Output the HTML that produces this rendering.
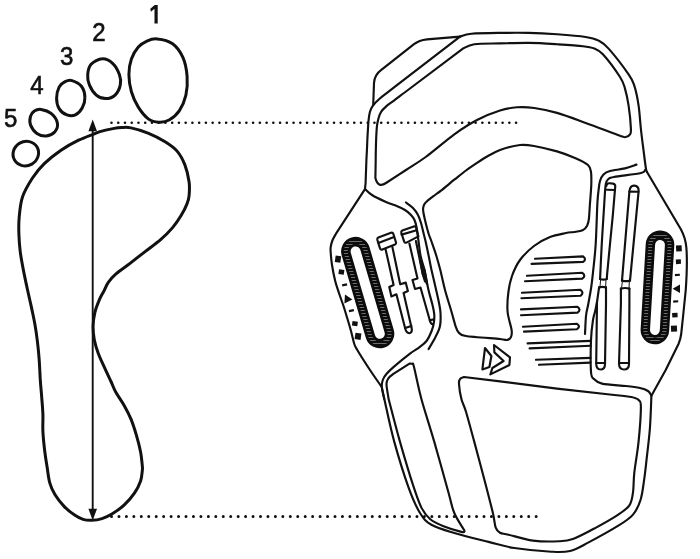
<!DOCTYPE html>
<html><head><meta charset="utf-8"><title>Foot size guide</title>
<style>
html,body{margin:0;padding:0;background:#fff;}
body{width:700px;height:559px;overflow:hidden;font-family:"Liberation Sans",sans-serif;}
svg{display:block;filter:grayscale(1)}
.f{fill:none;stroke:#111;stroke-width:3;stroke-linejoin:round}
.b{fill:none;stroke:#111;stroke-width:2.15;stroke-linecap:round;stroke-linejoin:round}
.t{fill:none;stroke:#151515;stroke-width:1;stroke-linecap:round;stroke-linejoin:round}
.dot{stroke:#111;stroke-width:2.6;stroke-linecap:round;}
.d{font-family:"Liberation Sans",sans-serif;font-size:25.6px;fill:#111;stroke:#111;stroke-width:0.6}
</style></head><body>
<svg width="700" height="559" viewBox="0 0 700 559">
<defs><pattern id="hatch" width="4" height="3" patternUnits="userSpaceOnUse"><rect width="4" height="3" fill="#0c0c0c"/><rect y="1.2" width="4" height="0.65" fill="#a0a0a0"/></pattern></defs>
<rect width="700" height="559" fill="#fff"/>
<path class="f" d="M122.0,127.5 C125.0,127.4 126.7,127.0 131.0,127.9 C135.3,128.8 142.3,130.8 148.0,133.1 C153.7,135.4 160.2,138.7 165.1,141.7 C169.9,144.7 173.8,147.2 177.1,151.1 C180.4,155.0 182.9,159.8 184.9,164.9 C186.9,170.1 188.4,176.9 189.1,182.0 C189.8,187.1 189.4,192.1 189.1,195.7 C188.8,199.3 188.4,200.3 187.1,203.6 C185.8,206.9 183.5,211.6 181.1,215.6 C178.7,219.6 176.0,223.6 172.6,227.6 C169.2,231.6 165.2,235.6 160.6,239.6 C156.0,243.6 150.2,247.6 145.1,251.6 C139.9,255.6 134.5,259.9 129.7,263.6 C124.8,267.3 119.6,270.8 116.0,273.9 C112.4,277.0 110.3,279.6 108.3,282.4 C106.3,285.2 105.5,287.8 104.0,290.8 C102.5,293.8 100.6,296.7 99.1,300.3 C97.6,303.9 95.9,308.0 94.9,312.3 C93.9,316.6 93.2,321.4 93.1,326.0 C93.0,330.6 93.4,335.1 94.3,339.7 C95.2,344.3 96.6,348.8 98.3,353.4 C100.0,358.0 102.2,362.4 104.3,367.1 C106.4,371.8 109.1,377.4 111.0,381.5 C112.9,385.6 113.5,388.0 115.7,392.0 C117.9,396.0 121.7,401.1 124.3,405.7 C126.9,410.3 129.1,414.5 131.1,419.4 C133.1,424.3 134.7,429.5 136.3,434.9 C137.9,440.3 139.6,446.9 140.6,452.0 C141.6,457.1 142.0,462.6 142.3,465.7 C142.6,468.8 142.6,468.1 142.3,470.6 C142.0,473.1 141.9,477.2 140.6,480.9 C139.3,484.6 137.3,488.9 134.6,492.9 C131.9,496.9 128.0,501.4 124.3,504.9 C120.6,508.4 116.0,511.5 112.3,513.8 C108.6,516.1 105.4,517.5 102.0,518.6 C98.6,519.7 94.9,520.2 91.7,520.3 C88.5,520.4 85.9,520.3 83.1,519.4 C80.2,518.5 77.7,517.2 74.6,515.1 C71.5,513.0 67.6,510.0 64.3,506.6 C61.0,503.2 57.3,498.6 54.9,494.6 C52.5,490.6 51.0,487.2 49.7,482.6 C48.4,478.0 48.0,472.5 47.1,467.1 C46.2,461.7 45.3,455.9 44.6,450.0 C43.9,444.1 43.2,437.3 42.9,431.4 C42.6,425.4 43.1,420.0 42.9,414.3 C42.7,408.6 42.1,402.8 41.7,397.1 C41.3,391.4 40.7,386.4 40.3,380.0 C39.9,373.6 39.6,365.0 39.1,358.6 C38.6,352.2 38.1,347.1 37.4,341.4 C36.7,335.7 35.9,330.0 34.9,324.3 C33.9,318.6 32.5,312.5 31.4,307.1 C30.2,301.7 29.4,298.4 28.0,292.0 C26.6,285.6 24.4,275.4 23.1,268.6 C21.8,261.8 20.9,257.1 20.2,251.4 C19.5,245.7 19.1,240.0 18.9,234.3 C18.7,228.6 18.6,223.3 19.2,217.1 C19.8,210.9 20.3,203.5 22.5,197.0 C24.7,190.5 28.7,183.9 32.3,178.3 C35.9,172.8 39.4,168.4 44.3,163.7 C49.1,159.0 55.7,153.9 61.4,150.0 C67.1,146.1 73.3,142.8 78.6,140.2 C83.9,137.6 89.4,135.7 93.0,134.3 C96.6,132.9 96.7,132.6 100.0,131.6 C103.3,130.6 109.3,129.3 113.0,128.6 C116.7,127.9 119.0,127.6 122.0,127.5Z" />
<path class="f" d="M157.1,38.9 C161.4,39.3 168.3,40.6 172.6,43.7 C176.9,46.8 180.5,52.0 182.9,57.4 C185.3,62.8 186.6,70.0 187.1,76.3 C187.6,82.6 187.2,89.4 185.9,95.1 C184.6,100.8 182.2,106.4 179.4,110.6 C176.6,114.8 172.5,118.1 169.1,120.0 C165.7,121.9 162.3,122.4 158.9,122.2 C155.5,122.0 152.0,121.6 148.6,119.1 C145.2,116.6 141.2,111.7 138.3,107.1 C135.4,102.5 133.0,97.1 131.4,91.7 C129.8,86.3 128.9,80.0 128.9,74.6 C128.9,69.2 129.8,63.7 131.4,59.1 C133.0,54.5 135.7,50.1 138.3,47.1 C140.9,44.1 143.8,42.5 146.9,41.1 C150.0,39.7 152.8,38.5 157.1,38.9Z" />
<path class="f" d="M102.3,58.8 C105.9,58.6 109.8,60.8 112.6,63.4 C115.4,66.0 118.1,71.0 119.4,74.6 C120.7,78.2 121.0,81.5 120.3,84.9 C119.6,88.3 117.5,92.8 115.1,95.1 C112.7,97.4 108.8,98.6 105.7,98.6 C102.6,98.6 99.0,97.4 96.3,95.1 C93.6,92.8 90.8,88.3 89.4,84.9 C88.0,81.5 87.4,78.0 87.7,74.6 C88.0,71.2 88.7,66.9 91.1,64.3 C93.5,61.7 98.7,58.9 102.3,58.8Z" />
<path class="f" d="M72.0,80.6 C74.7,81.4 79.2,83.5 81.4,86.3 C83.6,89.1 84.8,93.8 84.9,97.4 C85.1,101.0 83.9,104.8 82.3,107.7 C80.7,110.6 78.0,113.7 75.4,114.9 C72.8,116.1 69.6,116.0 66.9,114.9 C64.2,113.9 60.8,111.4 59.1,108.6 C57.4,105.8 56.6,101.9 56.6,98.3 C56.6,94.7 57.7,89.9 59.1,87.1 C60.5,84.3 62.9,82.8 65.1,81.7 C67.2,80.6 69.3,79.8 72.0,80.6Z" />
<path class="f" d="M41.1,109.4 C44.0,109.8 48.7,111.4 51.4,113.7 C54.1,116.0 56.8,120.1 57.4,123.1 C58.0,126.1 56.8,129.5 54.9,131.7 C53.0,133.8 49.3,135.7 46.3,136.0 C43.3,136.3 39.5,135.2 36.9,133.4 C34.3,131.6 31.6,127.8 30.5,124.9 C29.4,122.1 29.9,118.6 30.5,116.3 C31.1,114.0 32.5,112.2 34.3,111.1 C36.1,109.9 38.2,109.0 41.1,109.4Z" />
<ellipse class="f" cx="25.8" cy="153.6" rx="13" ry="12.1" transform="rotate(-30 25.8 153.6)"/>
<line x1="92.7" y1="128" x2="92.7" y2="512" stroke="#111" stroke-width="1.9"/>
<path d="M92.7,119.4 L97,131.2 L88.4,131.2Z" fill="#111"/>
<path d="M92.7,520.6 L97,508.8 L88.4,508.8Z" fill="#111"/>
<line class="dot" x1="111.5" y1="122.7" x2="516.8" y2="122.7" style="stroke-dasharray:0 6.743"/>
<line class="dot" x1="111.5" y1="516.5" x2="537.5" y2="516.5" style="stroke-width:3;stroke-dasharray:0 7.45"/>
<path d="M154.7,4.9 L157.7,4.9 L157.7,23.4 L154.5,23.4 L154.5,8.8 L150.9,11.8 L150.3,8.8Z" fill="#111"/>
<text class="d" transform="translate(92.3 41.1) scale(0.94 1)">2</text>
<text class="d" transform="translate(60.1 64.9) scale(0.94 1)">3</text>
<text class="d" transform="translate(30.3 94.0) scale(0.94 1)">4</text>
<text class="d" transform="translate(4.1 127.1) scale(0.94 1)">5</text>
<path class="b" d="M365,189 L365.6,183 L366.4,160  C366.5,158.1 366.8,152.8 367.0,148.6 C367.2,144.4 367.3,139.8 367.6,135.0 C367.9,130.2 368.2,123.8 368.6,120.0 C369.0,116.2 369.2,114.4 369.9,112.0 C370.6,109.6 371.4,107.8 372.9,105.7 C374.4,103.6 376.6,101.3 379.0,99.2 C381.4,97.1 384.3,95.0 387.0,92.9 C389.7,90.8 393.7,87.7 395.0,86.7 L460,36.6" />
<path class="b" d="M460.0,36.6 C461.9,36.1 464.7,34.3 471.4,33.7 C478.1,33.1 490.5,33.0 500.0,32.9 C509.5,32.8 519.1,32.7 528.6,32.9 C538.1,33.1 547.5,33.6 557.0,34.3 C566.5,35.0 578.8,36.0 585.7,37.0 C592.6,38.0 594.8,38.7 598.6,40.6 C602.4,42.5 603.6,43.0 608.6,48.6 C613.6,54.2 624.3,68.1 628.6,74.3 C632.9,80.5 632.6,80.5 634.3,85.7 C636.0,90.9 637.5,98.3 638.6,105.7 C639.7,113.1 640.1,122.0 641.0,130.0 C641.9,138.1 643.2,147.5 644.0,154.0 C644.8,160.5 645.5,166.0 646.0,169.0 C646.5,172.0 646.8,171.5 647.0,172.0" />
<path class="b" d="M373.2,105.2 L374,83 Q374.5,75 381,70.2 L414,44.2 Q419,40.3 427,39.4 L460,36.6" />
<path class="b" d="M375.4,178 L375.7,160  C375.7,158.6 375.7,155.1 375.8,151.4 C375.9,147.7 376.0,142.3 376.2,138.0 C376.4,133.7 376.6,129.0 377.0,125.7 C377.4,122.4 377.9,120.4 378.6,118.0 C379.3,115.6 380.1,113.3 381.4,111.4 C382.7,109.5 384.3,108.1 386.2,106.4 C388.1,104.7 389.9,103.6 392.9,101.4 C395.9,99.2 402.1,94.4 404.0,93.0 L462.9,48.6  C464.8,47.9 468.1,45.2 474.3,44.3 C480.5,43.4 490.9,43.6 500.0,43.4 C509.1,43.2 519.1,42.8 528.6,42.9 C538.1,43.0 548.0,43.7 557.0,44.3 C566.0,44.9 576.7,45.6 582.9,46.3 C589.1,47.0 591.0,47.3 594.3,48.6 C597.6,49.9 598.6,49.6 602.9,54.3 C607.2,59.0 616.3,71.3 620.0,77.0 C623.7,82.7 623.6,83.8 625.0,88.6 C626.4,93.4 627.6,99.0 628.6,105.7 C629.6,112.4 630.7,123.8 630.9,128.6 C631.1,133.4 630.9,132.9 630.0,134.3 C629.1,135.7 627.4,136.8 625.7,137.0 C624.0,137.2 626.7,138.0 620.0,135.7 C613.3,133.3 596.2,126.7 585.7,122.9 C575.2,119.1 565.6,115.4 557.0,112.9 C548.4,110.4 541.0,108.9 534.3,108.0 C527.6,107.1 522.7,106.9 517.0,107.3 C511.3,107.7 506.7,108.4 500.0,110.5 C493.3,112.6 484.6,116.0 477.0,120.0 C469.4,124.0 462.9,128.1 454.3,134.3 C445.8,140.5 433.8,151.1 425.7,157.0 C417.6,162.9 412.6,165.7 406.0,170.0 C399.4,174.3 389.3,180.8 386.0,183.0 Q378,188.5 375.4,178Z" />
<path class="b" d="M364.8,189.3 L336,233.7  C335.4,234.8 333.5,237.9 332.6,240.0 C331.8,242.1 331.2,244.2 330.9,246.0 C330.6,247.8 330.4,247.8 330.6,251.0 C330.8,254.2 331.2,260.0 332.0,265.0 C332.8,270.0 334.0,276.2 335.2,281.0 C336.4,285.8 337.9,289.8 339.3,294.0 C340.7,298.2 342.1,301.8 343.5,306.0 C344.9,310.2 346.2,314.8 347.5,319.0 C348.8,323.2 349.9,327.0 351.0,331.0 C352.1,335.0 353.0,339.9 354.0,343.0 C355.0,346.1 354.5,345.2 357.0,349.5 C359.5,353.8 365.0,362.4 369.0,368.5 C373.0,374.6 379.0,383.1 381.0,386.0" />
<path class="b" d="M365.0,189.0 C366.2,190.0 368.5,192.8 372.0,195.0 C375.5,197.2 382.2,200.3 386.0,202.0 C389.8,203.7 391.8,203.9 395.0,205.2 C398.2,206.5 402.3,208.4 405.0,210.0 C407.7,211.6 409.4,213.3 411.0,215.0 C412.6,216.7 413.6,218.0 414.5,220.0 C415.4,222.0 415.8,223.5 416.5,227.0 C417.2,230.5 417.8,236.2 418.5,241.0 C419.2,245.8 419.6,251.2 420.6,256.0 C421.6,260.8 423.2,264.3 424.5,270.0 C425.8,275.7 427.2,284.2 428.5,290.0 C429.8,295.8 431.5,300.8 432.5,305.0 C433.5,309.2 434.1,312.0 434.3,315.0 C434.5,318.0 434.2,320.3 433.8,323.0 C433.4,325.7 432.8,328.0 431.6,331.0 C430.4,334.0 428.6,338.2 426.5,341.0 C424.4,343.8 421.8,345.5 419.0,347.6 C416.2,349.7 414.2,350.4 410.0,353.6 C405.8,356.8 397.9,363.2 394.0,366.6 C390.1,370.0 388.3,371.8 386.4,374.0 C384.5,376.2 383.6,377.8 382.8,380.0 C382.0,382.2 381.6,383.8 381.8,387.0 C382.1,390.2 383.9,397.0 384.3,399.0" />
<path class="b" d="M406.0,202.5 C407.2,203.4 411.0,205.9 413.0,208.0 C415.0,210.1 416.7,212.5 418.0,215.0 C419.3,217.5 420.0,219.7 421.0,223.0 C422.0,226.3 423.2,232.0 424.0,235.0 C424.8,238.0 424.7,237.5 425.5,241.0 C426.3,244.5 427.7,251.2 428.7,256.0 C429.7,260.8 430.4,265.2 431.5,270.0 C432.6,274.8 433.8,279.5 435.0,285.0 C436.2,290.5 438.1,298.3 439.0,303.0 C439.9,307.7 440.3,309.2 440.5,313.0 C440.7,316.8 440.8,322.0 440.0,326.0 C439.2,330.0 437.4,333.2 435.5,337.0 C433.6,340.8 429.8,347.0 428.6,349.0" />
<path class="b" d="M381.8,387.0 C382.2,389.0 382.2,389.9 384.3,399.0 C386.4,408.1 390.2,427.1 394.3,441.9 C398.4,456.7 404.3,475.8 408.6,487.6 C412.9,499.5 416.2,506.8 420.0,513.0 C423.8,519.2 425.7,521.4 431.4,524.7 C437.1,528.0 444.8,530.1 454.3,533.0 C463.8,535.9 478.6,539.4 488.6,541.9 C498.6,544.4 503.8,546.4 514.3,548.0 C524.8,549.6 542.1,551.2 551.4,551.7 C560.7,552.2 563.8,552.5 570.0,551.0 C576.2,549.5 580.6,546.6 588.6,542.4 C596.6,538.2 610.9,530.3 618.3,525.7 C625.7,521.1 629.3,518.9 633.0,514.6 C636.7,510.3 638.7,505.7 640.6,499.7 C642.5,493.7 643.2,485.9 644.3,478.6 C645.4,471.3 646.0,464.3 647.0,455.7 C648.0,447.1 649.3,437.0 650.0,427.0 C650.7,417.0 651.2,400.9 651.4,395.7" />
<path class="b" d="M651.4,395.7 L665.7,370 L678.5,344 Q680.6,339 681.2,334 L683,317 L685.7,290.5 Q687.6,264 686.4,248 Q685.6,238 681,229.5 L647,172" />
<path class="b" d="M636.5,164.6 C634.6,165.2 629.4,167.3 625.0,168.4 C620.6,169.5 613.6,170.0 610.0,171.0 C606.4,172.0 605.2,172.8 603.5,174.5 C601.8,176.2 600.8,178.4 600.0,181.0 C599.2,183.6 599.0,186.3 598.6,190.0 C598.2,193.7 597.9,194.0 597.4,203.0 C596.9,212.0 596.4,233.1 595.7,244.0 C595.0,254.9 594.2,261.3 593.4,268.6 C592.6,275.9 592.0,282.1 591.1,288.0 C590.2,293.9 589.1,299.3 588.3,304.0 C587.4,308.7 586.5,311.0 586.0,316.0 C585.5,321.0 585.2,331.0 585.0,334.0" />
<path class="b" d="M645.0,170.0 C644.3,170.5 646.2,171.8 641.0,173.0 C635.8,174.2 619.4,176.0 614.0,177.0 C608.6,178.0 609.9,177.8 608.5,179.0 C607.1,180.2 606.5,180.0 605.8,184.0 C605.1,188.0 604.9,193.7 604.3,203.0 C603.7,212.3 602.7,228.1 602.0,240.0 C601.3,251.9 600.6,267.8 600.3,274.3 C600.0,280.8 600.0,278.2 600.0,279.0" />
<path class="b" d="M597.0,302.0 C596.7,303.5 595.9,308.0 595.2,311.0 C594.5,314.0 593.7,315.2 593.0,320.0 C592.3,324.8 591.3,331.3 591.0,340.0 C590.7,348.7 590.5,365.5 591.0,372.0 C591.5,378.5 592.2,377.1 594.0,379.0 C595.8,380.9 596.7,382.4 602.0,383.6 C607.3,384.8 619.7,385.3 626.0,386.0 C632.3,386.7 636.3,387.2 640.0,388.0 C643.7,388.8 646.2,389.8 648.0,391.0 C649.8,392.2 650.5,394.3 651.0,395.0" />
<path class="b" d="M607,189.7 L615,190" />
<path class="b" d="M606.4,186 Q606.6,183 609.5,183.3 L613,183.6 Q615.6,184 615.2,187 L612.9,214.3 L610,244 L607.1,274.3 L606.8,279" />
<path class="b" d="M599.1,287.4 L597,302 L596.2,364 Q596.5,369.5 600.5,369.5 Q605,369.5 605,364 L606,304 L606,287.4" />
<path class="b" d="M596.4,363 L605,363" />
<path class="b" d="M629.4,191.6 L638.4,191.8" />
<path class="b" d="M622,280.6 L629.4,191.4 Q630,185.3 634.3,185.6 Q639,186 638.6,191.4 L630,280.6" />
<path class="b" d="M620.9,288.6 L620.9,304 L619,364 Q619.3,369.5 624,369.5 Q629,369.5 629,364 L629.4,304 L629.4,288.6" />
<path class="b" d="M619.1,363 L629,363" />
<path class="b" d="M600,279 Q603.5,280.2 606.8,279 M599.1,287.4 Q602.5,286.4 606,287.4" />
<path class="b" d="M622,280.6 Q626,281.8 630,280.6 M620.9,288.6 Q625,287.4 629.4,288.6" />
<path class="t" d="M600.6,279.5 L600,287 M606,279.5 L605.6,287 M622.4,281 L621.6,288 M629.4,281 L629,288" />
<path class="b" d="M424.2,204.5 C424.8,203.4 425.4,202.6 427.0,201.2 C428.6,199.8 432.9,196.6 435.0,195.0 C437.1,193.4 438.1,192.9 441.0,190.6 C443.9,188.3 450.6,182.7 454.3,179.7 C458.1,176.7 462.6,173.0 466.0,170.5 C469.4,168.0 473.7,165.1 477.0,162.9 C480.3,160.7 484.6,157.9 488.0,156.0 C491.4,154.1 495.2,151.7 500.0,150.0 C504.8,148.3 514.9,145.6 520.0,145.0 C525.1,144.4 528.5,145.0 534.0,146.0 C539.5,147.0 550.9,149.6 557.0,151.4 C563.1,153.2 570.4,156.0 575.0,158.0 C579.6,160.0 585.6,162.9 588.0,165.0 C590.4,167.1 590.5,169.0 591.0,172.0 C591.5,175.0 591.4,180.3 591.3,185.0 C591.1,189.7 590.4,197.9 590.0,203.0 C589.6,208.1 589.3,215.6 588.9,219.0 C588.5,222.4 588.0,224.0 587.1,225.7 C586.2,227.4 584.6,229.4 582.6,230.3 C580.6,231.2 576.5,231.6 574.0,232.0 C571.5,232.4 569.6,232.2 566.0,233.0 C562.4,233.8 554.8,235.1 550.0,237.0 C545.2,238.9 538.5,242.6 534.0,246.0 C529.5,249.4 523.3,255.5 520.0,260.0 C516.7,264.5 513.7,271.2 512.0,276.0 C510.3,280.8 509.1,286.6 508.4,292.0 C507.7,297.4 507.1,306.3 507.6,312.0 C508.1,317.7 511.1,326.2 511.6,330.0 C512.1,333.8 511.7,335.5 511.0,337.0 C510.3,338.5 508.6,339.7 507.0,340.0 C505.4,340.3 506.1,339.6 500.0,339.0 C493.9,338.4 472.2,337.0 466.0,336.0 C459.8,335.0 460.2,333.9 458.6,332.4 C457.0,330.9 456.6,329.4 455.5,326.0 C454.4,322.6 452.6,315.4 451.0,310.0 C449.4,304.6 446.6,296.0 445.0,290.0 C443.4,284.0 441.6,275.1 440.3,270.0 C439.0,264.9 437.7,260.3 436.4,256.0 C435.1,251.7 432.6,244.7 431.5,241.5 C430.4,238.3 429.7,237.0 429.0,235.0 C428.3,233.0 427.6,230.2 427.0,228.0 C426.4,225.8 425.5,222.2 425.0,220.0 C424.5,217.8 423.8,214.7 423.5,213.0 C423.2,211.3 423.0,209.8 423.1,208.5 C423.2,207.2 423.6,205.6 424.2,204.5Z" />
<path class="b" d="M535.0,258.8 L583.0,256.4 Q587.0,259.1 583.0,261.9 L531.6,263.9" />
<path class="b" d="M527.0,275.8 L582.3,272.8 Q586.3,275.7 582.3,278.6 L525.0,281.2" />
<path class="b" d="M522.0,292.8 L580.5,289.8 Q584.5,292.8 580.5,295.8 L521.4,298.2" />
<path class="b" d="M521.0,309.4 L577.5,306.8 Q581.5,309.7 577.5,312.6 L521.0,315.2" />
<path class="b" d="M523.0,326.8 L577.0,323.8 Q581.0,326.5 577.0,329.2 L524.0,331.6" />
<path class="b" d="M527.6,343.4 L590.5,340.9 M590.5,345.8 L529.6,348.4" />
<path class="b" d="M536.0,359.8 L590.5,357.9 M590.5,362.6 L539.0,364.8" />
<path class="b" d="M464,377 L500,381.4 L557,388.6 L614.3,395  C617.1,395.3 627.3,396.2 631.4,397.0 C635.5,397.8 637.0,398.3 638.6,400.0 C640.2,401.7 640.9,400.1 640.9,407.0 C640.9,413.9 639.7,430.4 638.6,441.4 C637.5,452.4 635.2,464.4 634.3,472.9 C633.4,481.4 633.8,486.9 633.0,492.3 C632.2,497.7 631.9,501.6 629.4,505.3 C626.9,509.0 623.9,510.9 618.3,514.6 C612.7,518.3 603.4,523.6 596.0,527.6 C588.6,531.6 579.9,536.4 573.7,538.7 C567.5,541.0 565.7,541.0 558.9,541.3 C552.1,541.6 541.3,541.7 532.9,540.6 C524.5,539.5 514.1,536.0 508.6,534.7 C503.1,533.4 502.1,533.9 500.0,532.7 C497.9,531.5 496.9,530.9 495.7,527.6 C494.5,524.3 494.6,520.1 492.9,513.0 C491.2,505.9 488.8,496.6 485.7,484.7 C482.6,472.8 477.6,454.0 474.3,441.9 C471.0,429.8 468.1,418.9 466.0,411.8 C463.9,404.7 462.6,403.6 461.4,399.0 C460.2,394.4 459.2,387.3 459.0,384.0 C458.8,380.7 459.2,380.2 460.0,379.0 C460.8,377.8 463.3,377.3 464.0,377.0" />
<path class="b" d="M388.6,399.0 C388.3,396.8 386.9,389.0 386.6,386.0 C386.3,383.0 386.5,382.5 387.0,381.0 C387.5,379.5 388.5,378.1 389.5,377.0 C390.5,375.9 392.4,374.7 393.0,374.2 L409.5,363.6  C410.0,363.7 411.8,363.4 412.5,364.0 C413.2,364.6 412.5,361.2 414.0,367.0 C415.5,372.8 418.0,386.5 421.4,399.0 C424.8,411.5 429.8,426.2 434.3,441.9 C438.8,457.6 445.3,481.1 448.6,493.0 C451.9,504.9 451.7,506.8 454.3,513.0 C456.9,519.2 462.6,527.5 464.3,530.4 L464.5,531.5  C464.0,531.6 465.0,532.8 461.4,531.9 C457.8,531.0 448.1,528.1 442.9,526.0 C437.7,523.9 433.6,522.1 430.0,519.0 C426.4,515.9 424.2,513.3 421.4,507.6 C418.5,501.9 416.5,495.6 412.9,484.7 C409.3,473.8 404.1,456.2 400.0,441.9 C395.9,427.6 390.5,406.1 388.6,399.0" />
<path class="b" d="M485.0,348.0 L491.4,356.0 L489.4,367.0 L482.4,369.4Z" />
<path class="b" d="M494.0,345.0 L510.0,357.4 L509.4,365.0 L490.4,374.4 L492.4,368.0 L503.6,361.0 L494.4,352.4Z" />
<line x1="660.0" y1="244.8" x2="654.9" y2="330.0" stroke="#0c0c0c" stroke-width="28.6" stroke-linecap="round"/>
<line x1="660.0" y1="244.8" x2="654.9" y2="330.0" stroke="url(#hatch)" stroke-width="23.2" stroke-linecap="round"/>
<line x1="660.0" y1="244.8" x2="654.9" y2="330.0" stroke="#0c0c0c" stroke-width="15.4" stroke-linecap="round"/>
<line x1="660.0" y1="244.8" x2="654.9" y2="330.0" stroke="#fff" stroke-width="9.8" stroke-linecap="round"/>
<line x1="355.6" y1="251.4" x2="379.8" y2="333.8" stroke="#0c0c0c" stroke-width="29.0" stroke-linecap="round"/>
<line x1="355.6" y1="251.4" x2="379.8" y2="333.8" stroke="url(#hatch)" stroke-width="23.6" stroke-linecap="round"/>
<line x1="355.6" y1="251.4" x2="379.8" y2="333.8" stroke="#0c0c0c" stroke-width="15.6" stroke-linecap="round"/>
<line x1="355.6" y1="251.4" x2="379.8" y2="333.8" stroke="#fff" stroke-width="10.0" stroke-linecap="round"/>
<rect x="676.1" y="245.3" width="5.6" height="6.0" fill="#111" transform="rotate(-3 678.9 248.3)"/>
<rect x="675.9" y="259.4" width="5.0" height="4.6" fill="#111" transform="rotate(-3 678.4 261.7)"/>
<rect x="674.9" y="273.8" width="5.0" height="2.2" fill="#111" transform="rotate(-3 677.4 274.9)"/>
<path d="M672.6,288.8 L680,284.6 L680,293Z" fill="#111"/>
<rect x="673.2" y="300.3" width="5.0" height="2.2" fill="#111" transform="rotate(-3 675.7 301.4)"/>
<rect x="672.2" y="312.8" width="5.4" height="4.6" fill="#111" transform="rotate(-3 674.9 315.1)"/>
<rect x="671.0" y="325.6" width="6.0" height="6.0" fill="#111" transform="rotate(-3 674.0 328.6)"/>
<rect x="335.2" y="255.9" width="5.6" height="6.4" fill="#111" transform="rotate(8 338.0 259.1)"/>
<rect x="338.7" y="269.5" width="5.4" height="5.0" fill="#111" transform="rotate(8 341.4 272.0)"/>
<rect x="342.1" y="283.8" width="5.0" height="2.3" fill="#111" transform="rotate(-12 344.6 284.9)"/>
<path d="M352.4,299.6 L345,294.6 L344.4,303.4Z" fill="#111"/>
<rect x="348.9" y="309.5" width="5.0" height="2.3" fill="#111" transform="rotate(-10 351.4 310.6)"/>
<rect x="352.2" y="321.4" width="5.4" height="4.6" fill="#111" transform="rotate(8 354.9 323.7)"/>
<rect x="355.0" y="333.1" width="6.0" height="6.4" fill="#111" transform="rotate(8 358.0 336.3)"/>
<path class="b" d="M378.3,237.5 L391,232.8 Q392.8,232.3 393.4,234 L396,242.5 Q396.4,244 395,244.6 L382.3,249.6 Q380.6,250 380,248.4 L377.3,239.8 Q376.9,238.2 378.3,237.5Z" />
<path class="b" d="M378.4,243 L394,237" />
<path class="b" d="M385.6,249.4 L393.6,285 L389.3,287 L391.4,296.4 L396.4,294.3 L405.2,328.6 Q406.5,333.6 409.6,333.2 Q412.6,332.4 411.6,328 L403.6,292.9 L407.9,291 L405.7,282.6 L400.2,284.3 L392.3,246.6" />
<path class="b" d="M405.2,328 L411.4,326" />
<path class="b" d="M402.3,230.5 L413.8,226.4 Q415.4,226 416,227.2 L418.4,236.4 L406.5,242.6 Q404.8,243.2 404.2,241.6 L401.3,232.9 Q400.9,231.2 402.3,230.5Z" />
<path class="b" d="M401.6,234.6 L416.6,230.3" />
<path class="b" d="M409.4,243.5 L417.5,278.5 L412.5,280 L415,289 L420.5,287.5 L430,321 Q431,324.6 433,324" />
<path class="b" d="M415.9,241 L422.7,273.9 L425,281.5" />
<path class="b" d="M429.8,320.4 L434,319.2" />
<path class="b" d="M420.6,262 L422.7,273.9 L427,284 L424.5,270Z"  style="fill:#111"/>
</svg>
</body></html>
